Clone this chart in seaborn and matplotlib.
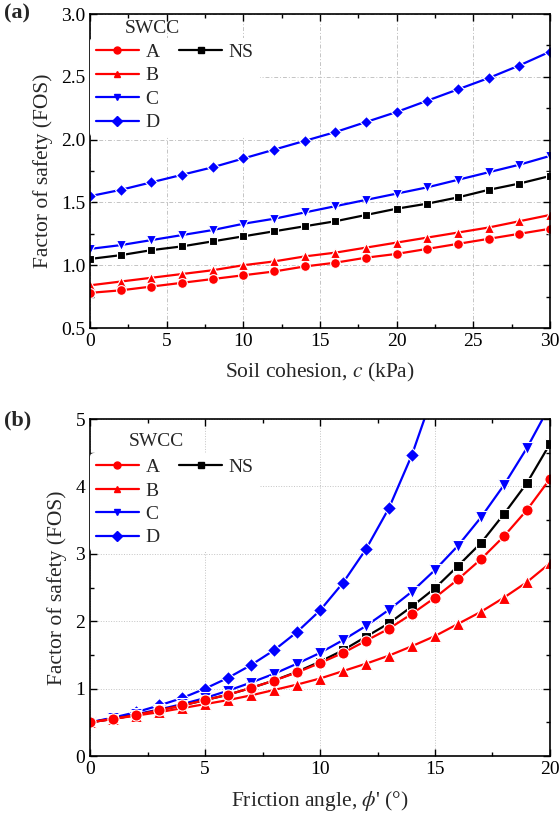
import numpy as np
import pandas as pd
import seaborn as sns
import matplotlib.pyplot as plt
from matplotlib.ticker import MultipleLocator
from matplotlib.lines import Line2D

# panel (a): FOS vs soil cohesion
cohesion = [0, 2, 4, 6, 8, 10, 12, 14, 16, 18, 20, 22, 24, 26, 28, 30]
a_A = [0.78, 0.80, 0.83, 0.86, 0.89, 0.92, 0.95, 0.99, 1.02, 1.06, 1.09, 1.13, 1.17, 1.21, 1.25, 1.29]
a_B = [0.84, 0.87, 0.90, 0.93, 0.96, 1.00, 1.03, 1.07, 1.10, 1.14, 1.18, 1.22, 1.26, 1.30, 1.35, 1.40]
a_C = [1.13, 1.16, 1.20, 1.24, 1.28, 1.33, 1.37, 1.42, 1.47, 1.52, 1.57, 1.62, 1.68, 1.74, 1.80, 1.87]
a_D = [1.55, 1.60, 1.66, 1.72, 1.78, 1.85, 1.92, 1.99, 2.06, 2.14, 2.22, 2.31, 2.40, 2.49, 2.59, 2.70]
a_NS = [1.05, 1.08, 1.12, 1.15, 1.19, 1.23, 1.27, 1.31, 1.35, 1.40, 1.45, 1.49, 1.54, 1.60, 1.65, 1.71]

# panel (b): FOS vs friction angle
phi = list(range(21))
b_A = [0.50, 0.55, 0.61, 0.68, 0.75, 0.83, 0.91, 1.01, 1.12, 1.24, 1.38, 1.53, 1.71, 1.89, 2.11, 2.35, 2.62, 2.92, 3.26, 3.65, 4.11]
b_B = [0.50, 0.55, 0.60, 0.65, 0.71, 0.77, 0.83, 0.90, 0.98, 1.06, 1.15, 1.26, 1.37, 1.49, 1.63, 1.78, 1.96, 2.14, 2.35, 2.58, 2.86]
b_C = [0.50, 0.56, 0.62, 0.69, 0.77, 0.86, 0.97, 1.09, 1.22, 1.37, 1.53, 1.72, 1.93, 2.17, 2.44, 2.76, 3.12, 3.54, 4.02, 4.57, 5.20]
b_D = [0.50, 0.57, 0.65, 0.75, 0.86, 1.00, 1.16, 1.35, 1.57, 1.84, 2.16, 2.57, 3.07, 3.68, 4.47, 5.45]
b_NS = [0.50, 0.55, 0.61, 0.68, 0.75, 0.83, 0.91, 1.01, 1.12, 1.25, 1.40, 1.57, 1.77, 1.97, 2.22, 2.49, 2.82, 3.16, 3.59, 4.05, 4.63]

names = ["A", "B", "C", "D", "NS"]
colors = {"A": "#ff0000", "B": "#ff0000", "C": "#0000ff", "D": "#0000ff", "NS": "#000000"}
markers = {"A": "o", "B": "^", "C": "v", "D": "D", "NS": "s"}
msize = {"A": 7, "B": 7, "C": 7, "D": 6, "NS": 6}

sns.set_theme(style="ticks")
plt.rcParams['font.family'] = ['Liberation Serif', 'DejaVu Serif']
plt.rcParams['mathtext.fontset'] = 'stix'
plt.rcParams['xtick.direction'] = 'in'
plt.rcParams['ytick.direction'] = 'in'

fig = plt.figure(figsize=(5.6, 8.19), dpi=100)
ax1 = fig.add_axes([0.161, 0.5995, 0.821, 0.3834])
ax2 = fig.add_axes([0.161, 0.0769, 0.821, 0.4115])


def draw(ax, x, series, ms_scale):
    for n in ["D", "C", "NS", "B", "A"]:
        y = series[n]
        sns.lineplot(x=x[:len(y)], y=y, ax=ax, color=colors[n], marker=markers[n],
                     markersize=msize[n] * ms_scale, markeredgecolor="white",
                     markeredgewidth=0.8, linewidth=1.6, legend=False)


def style(ax, grid_kw, title_xy, leg_y):
    ax.grid(True, color="#c4c4c4", linewidth=0.7, **grid_kw)
    ax.set_axisbelow(True)
    for s in ax.spines.values():
        s.set_linewidth(1.2)
        s.set_color("black")
    ax.tick_params(which="both", top=True, right=True, labelsize=14, colors="black")
    ax.tick_params(which="major", length=5, width=1)
    ax.tick_params(which="minor", length=3, width=1)
    handles = [Line2D([0], [0], color=colors[n], marker=markers[n], markersize=5,
                      linewidth=1.6, markeredgecolor=colors[n]) for n in names]
    blank = [Line2D([0], [0], color="none") for _ in range(3)]
    ax.legend(handles + blank, names + ["", "", ""], ncol=2,
              loc="upper left", bbox_to_anchor=(0.0, leg_y), fontsize=14,
              frameon=True, facecolor="white", edgecolor="none", framealpha=1,
              handlelength=2.2, handletextpad=0.35, columnspacing=1.0,
              labelspacing=0.3, borderaxespad=0.0, borderpad=0.3)
    ax.text(title_xy[0], title_xy[1], "SWCC", transform=ax.transAxes,
            fontsize=14, va="center", ha="left", zorder=10)


draw(ax1, cohesion, {"A": a_A, "B": a_B, "C": a_C, "D": a_D, "NS": a_NS}, 1.0)
ax1.set_xlim(0, 30)
ax1.set_ylim(0.5, 3.0)
ax1.xaxis.set_major_locator(MultipleLocator(5))
ax1.xaxis.set_minor_locator(MultipleLocator(2.5))
ax1.yaxis.set_major_locator(MultipleLocator(0.5))
ax1.yaxis.set_minor_locator(MultipleLocator(0.25))
ax1.set_xlabel("Soil cohesion, $\\it{c}$ (kPa)", fontsize=15.5, labelpad=8)
ax1.set_ylabel("Factor of safety (FOS)", fontsize=15.5, labelpad=6)
style(ax1, {"dashes": (4, 2, 1, 2)}, (0.076, 0.955), 0.925)

draw(ax2, phi, {"A": b_A, "B": b_B, "C": b_C, "D": b_D, "NS": b_NS}, 1.15)
ax2.set_xlim(0, 20)
ax2.set_ylim(0, 5)
ax2.xaxis.set_major_locator(MultipleLocator(5))
ax2.xaxis.set_minor_locator(MultipleLocator(2.5))
ax2.yaxis.set_major_locator(MultipleLocator(1))
ax2.yaxis.set_minor_locator(MultipleLocator(0.5))
ax2.set_xlabel("Friction angle, $\\it{\\phi}$' (°)", fontsize=15.5, labelpad=8)
ax2.set_ylabel("Factor of safety (FOS)", fontsize=15.5, labelpad=6)
style(ax2, {"linestyle": ":"}, (0.083, 0.932), 0.9)

fig.text(0.008, 0.983, "(a)", fontsize=16, fontweight="bold", va="center")
fig.text(0.008, 0.487, "(b)", fontsize=16, fontweight="bold", va="center")

fig.savefig("out.png", dpi=100)
